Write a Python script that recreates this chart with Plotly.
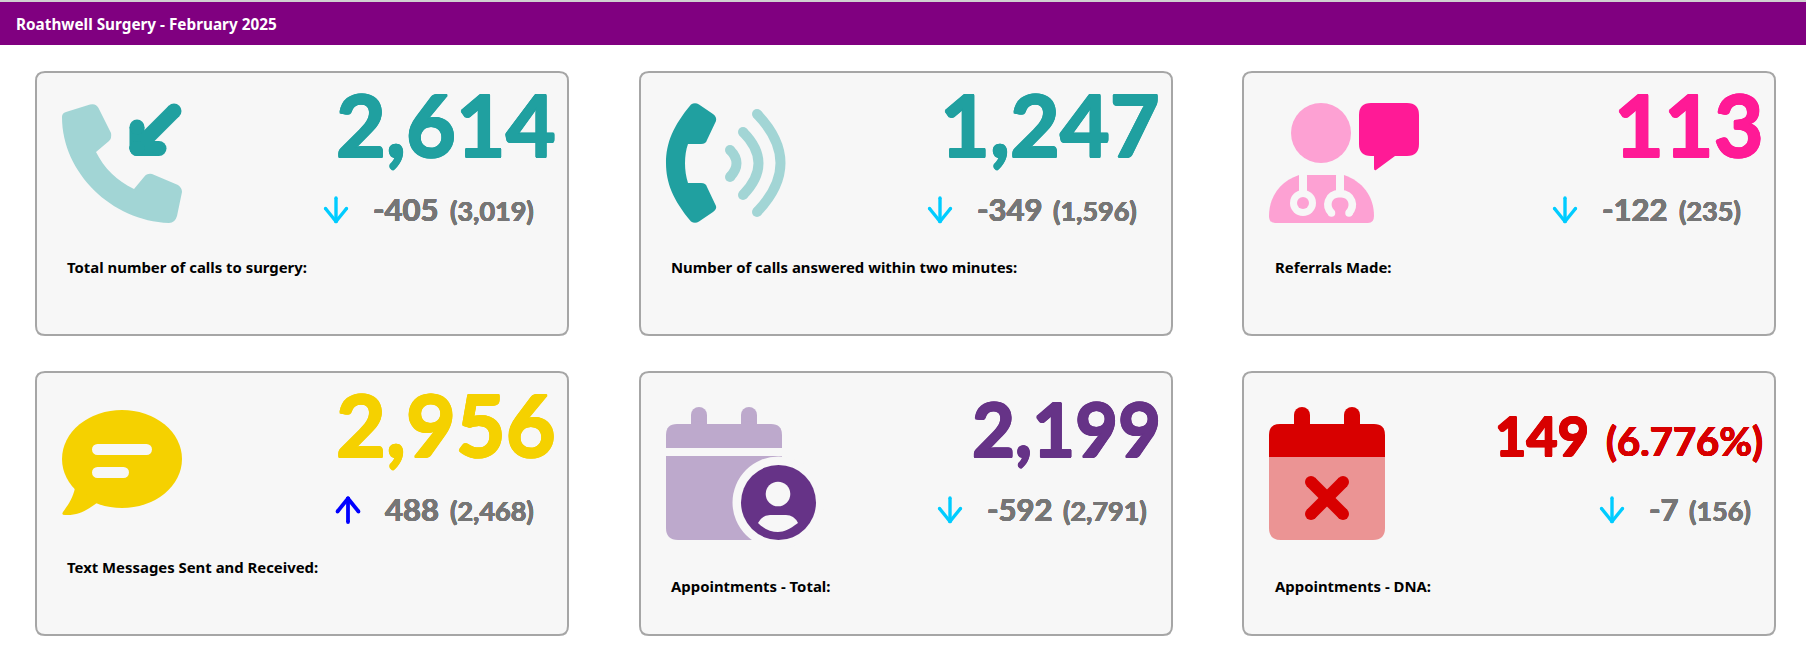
import re
import plotly.graph_objects as go

header_title = "Roathwell Surgery - February 2025"

card_labels = [
    "Total number of calls to surgery:",
    "Number of calls answered within two minutes:",
    "Referrals Made:",
    "Text Messages Sent and Received:",
    "Appointments - Total:",
    "Appointments - DNA:",
]
card_values = ["2,614", "1,247", "113", "2,956", "2,199", "149"]
card_deltas = ["-405", "-349", "-122", "488", "-592", "-7"]
card_previous = ["(3,019)", "(1,596)", "(235)", "(2,468)", "(2,791)", "(156)"]
dna_rate = "(6.776%)"

# styles and placement, all in page pixels
TEAL, TEAL_LT = "#20A0A0", "#A2D5D5"
PINK, PINK_LT = "#FF1A96", "#FDA1D3"
YELLOW = "#F5D100"
PURPLE, PURPLE_LT = "#663387", "#BDA9CC"
RED, RED_LT = "#D80000", "#EB9494"
CARD_BG, CARD_LINE = "#F7F7F7", "#A6A6A6"
GREY = "#767676"
CYAN, BLUE = "#00CCFF", "#0000FF"

value_colors = [TEAL, TEAL, PINK, YELLOW, PURPLE, RED]
value_sizes = [86, 86, 86, 86, 74, 54]
value_right = [557, 1161, 1765, 557, 1162, 1590]
value_base = [157, 157, 157, 457, 457, 457]
prev_right = [535, 1138, 1742, 535, 1148, 1752]
delta_right = [440, 1044, 1669, 440, 1054, 1680]
arrow_x = [336, 940, 1565, 348, 950, 1612]
label_x = [66, 670, 1274, 66, 670, 1274]
label_y = [267, 267, 267, 567, 586, 586]
card_left = [36, 640, 1243, 36, 640, 1243]
card_top = [72, 72, 72, 372, 372, 372]
CARD_W, CARD_H = 532, 263

shapes = []
notes = []


def shift(path, ox, oy):
    # numbers come as x y pairs, so offset them in turn
    n = [0]

    def move(m):
        i = n[0]
        n[0] += 1
        return f"{float(m.group()) + (ox if i % 2 == 0 else oy):.2f}"

    return re.sub(r"-?\d+\.?\d*", move, path)


def fill(path, color, ox=0, oy=0):
    shapes.append(dict(type="path", path=shift(path, ox, oy), fillcolor=color, line_width=0))


def dot(cx, cy, r, color, ry=None):
    ry = r if ry is None else ry
    shapes.append(
        dict(type="circle", x0=cx - r, x1=cx + r, y0=cy - ry, y1=cy + ry, fillcolor=color, line_width=0)
    )


def rrect(x0, y0, x1, y1, tl=0, tr=0, br=0, bl=0):
    return (
        f"M {x0 + tl} {y0} L {x1 - tr} {y0} Q {x1} {y0} {x1} {y0 + tr} "
        f"L {x1} {y1 - br} Q {x1} {y1} {x1 - br} {y1} L {x0 + bl} {y1} "
        f"Q {x0} {y1} {x0} {y1 - bl} L {x0} {y0 + tl} Q {x0} {y0} {x0 + tl} {y0} Z"
    )


def stroke(path, ends, width, color, ox=0, oy=0):
    # plotly has no round line caps, so put a dot on each end
    shapes.append(
        dict(type="path", path=shift(path, ox, oy), line=dict(color=color, width=width), fillcolor="rgba(0,0,0,0)")
    )
    for ex, ey in ends:
        dot(ex + ox, ey + oy, width / 2, color)


def bar(x0, y0, x1, y1, width, color, ox=0, oy=0):
    stroke(f"M {x0} {y0} L {x1} {y1}", [(x0, y0), (x1, y1)], width, color, ox, oy)


def icon_phone_in(ox, oy):
    fill(
        "M 0 14 Q 0 10 4 9 L 28 1.5 Q 34 0 36.5 5 L 49 30 Q 50 35 47 38 L 34 49 "
        "C 42 65 55 78 72 86 L 82 74 Q 85 70 90 71 L 116 82 Q 120 85 120 89 "
        "L 115 113 Q 113 120 107 120 C 50 118 0 70 0 14 Z",
        TEAL_LT, ox, oy,
    )
    bar(112, 8, 75, 45, 15, TEAL, ox, oy)
    bar(75, 24, 75, 45.5, 15, TEAL, ox, oy)
    bar(75, 45.5, 97, 45.5, 15, TEAL, ox, oy)


def icon_phone_waves(ox, oy):
    fill(
        "M 25 1.5 Q 29 -1 33 1.5 L 47 11 Q 51 14 50 18 L 41 37 Q 40 41 35 41 L 22 41 "
        "C 18 52 18 68 22 80 L 35 80 Q 40 80 41 84 L 50 103 Q 51 106 47 109 L 33 118.5 "
        "Q 29 121 25 118.5 C 7 97 0 80 0 60 C 0 40 7 23 25 1.5 Z",
        TEAL, ox, oy,
    )
    for x_end, y_top, y_bot, x_ctrl in [(91, 11, 109, 138), (77, 29, 92, 108), (64, 47, 74, 77)]:
        stroke(f"M {x_end} {y_top} Q {x_ctrl} 60 {x_end} {y_bot}", [(x_end, y_top), (x_end, y_bot)], 10, TEAL_LT, ox, oy)


def icon_doctor(ox, oy):
    dot(ox + 52, oy + 30, 30, PINK_LT)
    fill(
        "M 102 0 L 138 0 Q 150 0 150 12 L 150 41 Q 150 53 138 53 L 126 53 L 107 67 Q 105 68 105 65 "
        "L 105 53 L 102 53 Q 90 53 90 41 L 90 12 Q 90 0 102 0 Z",
        PINK, ox, oy,
    )
    fill("M 6 120 Q 0 120 0 113 C 0 93 12 78 30 72 L 75 72 C 93 78 105 93 105 113 Q 105 120 99 120 Z", PINK_LT, ox, oy)
    bar(34, 71, 34, 92, 8, CARD_BG, ox, oy)
    dot(ox + 34, oy + 100, 13, CARD_BG)
    dot(ox + 34, oy + 100, 6, PINK_LT)
    bar(71, 71, 71, 90, 8, CARD_BG, ox, oy)
    stroke(
        "M 62.5 110 C 56 103 58 91 71 90.5 C 84 91 86 103 80 110",
        [(62.5, 110), (80, 110)], 7.5, CARD_BG, ox, oy,
    )


def icon_chat(ox, oy):
    dot(ox + 60, oy + 49, 60, YELLOW, ry=49)
    fill("M 13 78 C 11 88 6 95 1 102 Q -1 105 3 105 C 15 106 26 100 36 92 Z", YELLOW, ox, oy)
    bar(35.5, 39.5, 84.5, 39.5, 11, CARD_BG, ox, oy)
    bar(35.5, 62.5, 61.5, 62.5, 11, CARD_BG, ox, oy)


def icon_calendar_user(ox, oy):
    bar(33, 8, 33, 22, 16, PURPLE_LT, ox, oy)
    bar(83, 8, 83, 22, 16, PURPLE_LT, ox, oy)
    fill(rrect(0, 17, 116, 41, tl=11, tr=11), PURPLE_LT, ox, oy)
    fill(rrect(0, 49, 116, 133, bl=12), PURPLE_LT, ox, oy)
    dot(ox + 112.5, oy + 95.5, 46, CARD_BG)
    dot(ox + 112.5, oy + 95.5, 37.5, PURPLE)
    dot(ox + 112, oy + 87, 12.3, CARD_BG)
    fill("M 92 116 Q 96 108 104 108 L 120 108 Q 128 108 132 116 C 124 122 118 125 112 125 C 105 125 98 122 92 116 Z", CARD_BG, ox, oy)


def icon_calendar_x(ox, oy):
    bar(33, 8, 33, 22, 16, RED, ox, oy)
    bar(83, 8, 83, 22, 16, RED, ox, oy)
    fill(rrect(0, 17, 116, 50, tl=11, tr=11), RED, ox, oy)
    fill(rrect(0, 50, 116, 133, br=12, bl=12), RED_LT, ox, oy)
    bar(42, 75, 74, 107, 12, RED, ox, oy)
    bar(74, 75, 42, 107, 12, RED, ox, oy)


def trend_arrow(cx, top, up):
    color = BLUE if up else CYAN
    width = 3.8 if up else 3.4
    bottom = top + 26
    tip = top + 1.5 if up else bottom - 1.5
    wing = tip + 13 if up else tip - 13
    tail = bottom - 1 if up else top + 1
    bar(cx, tail, cx, tip, width, color)
    bar(cx - 10.5, wing, cx, tip, width, color)
    bar(cx + 10.5, wing, cx, tip, width, color)


def text(x, y, s, size, color, family, anchor, heavy=0):
    font = dict(family=family, size=size, color=color, weight=700)
    if heavy:
        # no Lato Black here, thicken the bold with a tight shadow
        font["shadow"] = ",".join(
            f"{dx * heavy}px {dy * heavy}px 0 {color}" for dx, dy in [(1, 0), (-1, 0), (0, 1), (0, -1), (0.7, 0.7), (-0.7, -0.7), (0.7, -0.7), (-0.7, 0.7)]
        )
    notes.append(
        dict(x=x, y=y, text=s, xanchor=anchor, yanchor="middle", showarrow=False, borderpad=0, font=font)
    )


def lato(x, base, s, size, color, heavy):
    # digits are about .72em tall in Lato, centre the box on the line
    text(x, base - 0.39 * size, s, size, color, "Lato", "right", heavy)


# top bar
shapes.append(dict(type="rect", x0=0, x1=1806, y0=0, y1=2, fillcolor="#D0D0D0", line_width=0))
shapes.append(dict(type="rect", x0=0, x1=1806, y0=2, y1=45, fillcolor="#800080", line_width=0))
text(15, 23.5, header_title, 15.3, "white", "Noto Sans", "left")

icons = [icon_phone_in, icon_phone_waves, icon_doctor, icon_chat, icon_calendar_user, icon_calendar_x]
icon_x = [62, 666, 1269, 62, 666, 1269]
icon_y = [103, 103, 103, 410, 407, 407]

for i in range(6):
    left, top = card_left[i], card_top[i]
    shapes.append(
        dict(
            type="path",
            path=rrect(left, top, left + CARD_W, top + CARD_H, 9, 9, 9, 9),
            fillcolor=CARD_BG,
            line=dict(color=CARD_LINE, width=2),
        )
    )
    icons[i](icon_x[i], icon_y[i])

    lato(value_right[i], value_base[i], card_values[i], value_sizes[i], value_colors[i], 0.9)
    base = top + 149
    lato(prev_right[i], base, card_previous[i], 27, GREY, 0.25)
    lato(delta_right[i], base, card_deltas[i], 31, GREY, 0.3)
    trend_arrow(arrow_x[i], top + 125, not card_deltas[i].startswith("-"))
    text(label_x[i], label_y[i], card_labels[i], 14.9, "black", "Noto Sans", "left")

lato(1764, 457, dna_rate, 40, RED, 0.4)

fig = go.Figure()
fig.update_layout(
    width=1806,
    height=665,
    margin=dict(l=0, r=0, t=0, b=0),
    paper_bgcolor="white",
    plot_bgcolor="white",
    showlegend=False,
    xaxis=dict(range=[0, 1806], visible=False, fixedrange=True),
    yaxis=dict(range=[665, 0], visible=False, fixedrange=True),
    shapes=shapes,
    annotations=notes,
)
fig.write_html(
    "out.html",
    config=dict(displayModeBar=False),
    post_script="document.body.style.margin='0';document.body.style.overflow='hidden';",
)
